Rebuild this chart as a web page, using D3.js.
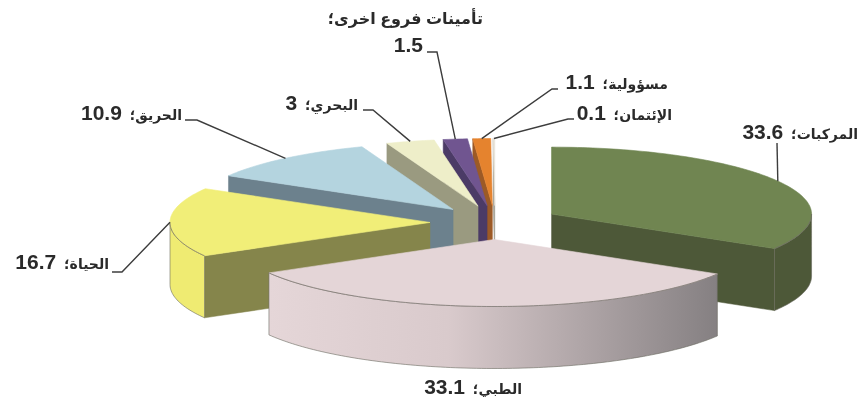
<!DOCTYPE html>
<html>
<head>
<meta charset="utf-8">
<script src="https://cdnjs.cloudflare.com/ajax/libs/d3/7.8.5/d3.min.js"></script>
<style>
  body { margin: 0; background: #fff; }
  text { font-family: "Liberation Sans", "DejaVu Sans", sans-serif; font-weight: bold; fill: #2b2b2b; }
</style>
</head>
<body>
<svg id="chart" width="860" height="405"></svg>
<script>
// Data
const categories = ['المركبات', 'الطبي', 'الحياة', 'الحريق', 'البحري', 'تأمينات فروع اخرى', 'مسؤولية', 'الإئتمان'];
const values = [33.6, 33.1, 16.7, 10.9, 3, 1.5, 1.1, 0.1];

// Colours, same order as categories
const topColors = ['#6f8551', '#e4d5d7', '#f1ee78', '#b4d4df', '#eeeec9', '#6f5590', '#e5832f', '#e9e4d8'];
const wallColors = ['#4e5839', '#8f8587', '#85854c', '#6c818d', '#9a9a80', '#4c3a66', '#9c5a26', '#a09c90'];
const rimColors = ['#4e5839', 'url(#pinkRim)', '#efeb72', '#6c818d', '#9a9a80', '#4c3a66', '#9c5a26', '#a09c90'];

// Back-to-front paint order (indexes into categories)
const paintOrder = [7, 6, 5, 4, 3, 2, 0, 1];

// Label layout: right edge, baseline, leader elbow points from rim outwards
const labelLayout = [
  { right: 858, base: 139, elbow: [[777, 143]] },
  { right: 522, base: 394, elbow: null },
  { right: 109, base: 269, elbow: [[122, 272], [112, 272]] },
  { right: 182, base: 120, elbow: [[197, 120], [185, 120]] },
  { right: 358, base: 110, elbow: [[373, 110], [363, 110]] },
  { right: 483, base: 24, elbow: [[437, 52], [427, 52]], second: { right: 423, base: 52 } },
  { right: 668, base: 89, elbow: [[552, 89], [558, 89]] },
  { right: 672, base: 120, elbow: [[568, 119], [574, 119]] }
];

const svg = d3.select('#chart');

// Pie geometry
const cx = 495, cy = 222.5;
const rx = 260, ry = 67;
const depth = 62;
const explodeX = 65, explodeY = 17;

const defs = svg.append('defs');
const grad = defs.append('linearGradient').attr('id', 'pinkRim');
grad.append('stop').attr('offset', '0%').attr('stop-color', '#e5d6d8');
grad.append('stop').attr('offset', '40%').attr('stop-color', '#d9cacc');
grad.append('stop').attr('offset', '100%').attr('stop-color', '#858082');
defs.append('filter').attr('id', 'soft')
  .append('feGaussianBlur').attr('stdDeviation', 0.45);

const arcs = d3.pie().sort(null).startAngle(0).endAngle(2 * Math.PI)(values);
const line = d3.line();

arcs.forEach(d => {
  const mid = (d.startAngle + d.endAngle) / 2;
  d.apex = [cx + explodeX * Math.sin(mid), cy - explodeY * Math.cos(mid)];
  d.rimPoint = a => [d.apex[0] + rx * Math.sin(a), d.apex[1] - ry * Math.cos(a)];
  d.mid = mid;
});

const down = p => [p[0], p[1] + depth];
const sampleAngles = (a0, a1) => {
  const n = Math.max(2, Math.ceil((a1 - a0) / 0.02));
  return d3.range(n + 1).map(i => a0 + (a1 - a0) * i / n);
};

const pies = svg.append('g').attr('filter', 'url(#soft)');

paintOrder.forEach(i => {
  const d = arcs[i];
  const g = pies.append('g');

  // cut faces, only the ones turned to the viewer
  const wall = a => {
    const r = d.rimPoint(a);
    g.append('path')
      .attr('d', line([r, d.apex, down(d.apex), down(r)]) + 'Z')
      .attr('fill', wallColors[i])
      .attr('stroke', wallColors[i])
      .attr('stroke-width', 0.5);
  };
  if (Math.sin(d.startAngle) < -1e-6) wall(d.startAngle);
  if (Math.sin(d.endAngle) > 1e-6) wall(d.endAngle);

  // outer rim, front half of the ellipse only
  const a0 = Math.max(d.startAngle, Math.PI / 2);
  const a1 = Math.min(d.endAngle, 3 * Math.PI / 2);
  if (a1 > a0) {
    const pts = sampleAngles(a0, a1).map(d.rimPoint);
    g.append('path')
      .attr('d', line(pts.concat(pts.slice().reverse().map(down))) + 'Z')
      .attr('fill', rimColors[i])
      .attr('stroke', '#6a6a60')
      .attr('stroke-width', 0.6);
  }

  // top face
  const top = sampleAngles(d.startAngle, d.endAngle).map(d.rimPoint);
  g.append('path')
    .attr('d', line([d.apex].concat(top)) + 'Z')
    .attr('fill', topColors[i])
    .attr('stroke', topColors[i])
    .attr('stroke-width', 0.6);

  // dark line where the top meets a visible rim
  if (a1 > a0) {
    g.append('path')
      .attr('d', line(sampleAngles(a0, a1).map(d.rimPoint)))
      .attr('fill', 'none')
      .attr('stroke', '#6f6a64')
      .attr('stroke-width', 0.7);
  }
});

// Leader lines
const leaders = svg.append('g').attr('filter', 'url(#soft)');
arcs.forEach((d, i) => {
  const l = labelLayout[i];
  if (!l.elbow) return;
  const start = d.rimPoint(d.mid);
  leaders.append('path')
    .attr('d', line([start].concat(l.elbow)))
    .attr('fill', 'none')
    .attr('stroke', '#3c3c3c')
    .attr('stroke-width', 1.4);
});

// Labels
const labels = svg.append('g').attr('filter', 'url(#soft)');
categories.forEach((name, i) => {
  const l = labelLayout[i];
  if (l.second) {
    // long name sits on its own line above the value
    labels.append('text')
      .attr('direction', 'rtl').attr('x', l.right).attr('y', l.base)
      .attr('font-size', 16)
      .text(name + '؛');
    labels.append('text')
      .attr('text-anchor', 'end').attr('x', l.second.right).attr('y', l.second.base)
      .attr('font-size', 21)
      .text(values[i]);
    return;
  }
  const t = labels.append('text')
    .attr('direction', 'rtl').attr('x', l.right).attr('y', l.base);
  t.append('tspan').attr('font-size', 14).text(name + '؛\u00A0\u00A0');
  t.append('tspan').attr('font-size', 21).text(values[i]);
});
</script>
</body>
</html>
